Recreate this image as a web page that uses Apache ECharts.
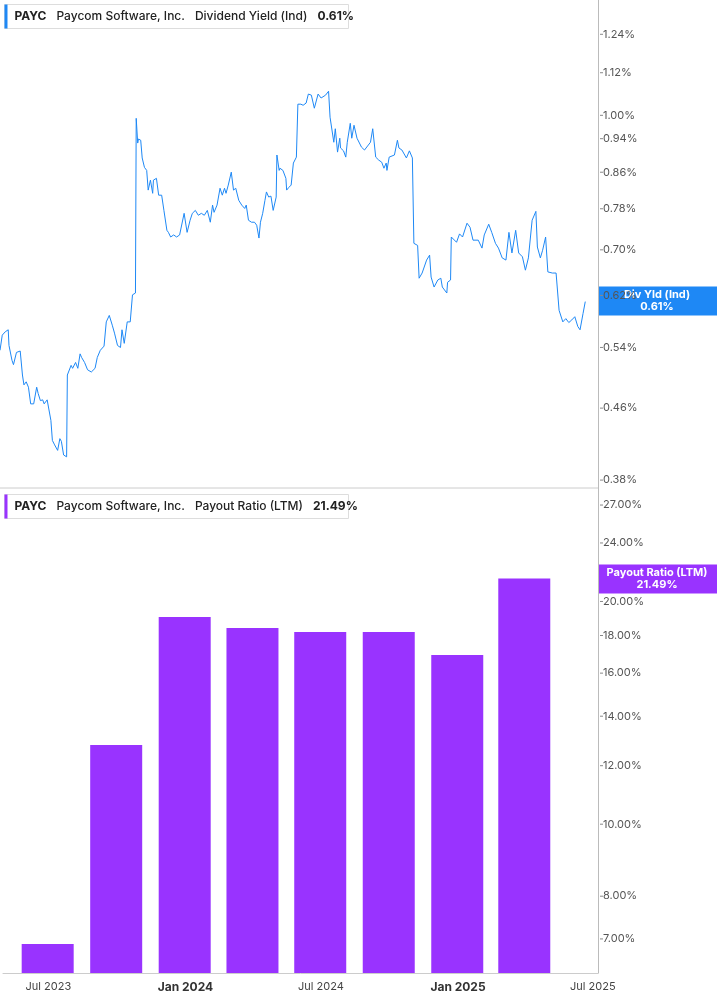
<!DOCTYPE html>
<html>
<head>
<meta charset="utf-8">
<script src="https://cdn.jsdelivr.net/npm/echarts@6/dist/echarts.min.js"></script>
<style>
  html, body { margin: 0; padding: 0; background: #fff; }
  #chart { width: 717px; height: 1005px; }
</style>
</head>
<body>
<div id="chart"></div>
<script>
// 起点日期，其余按天数偏移
const startDate = Date.UTC(2023, 4, 1)
const endDate = Date.UTC(2025, 6, 8)

// 股息率 (Ind)：[天数偏移, 百分比]
const yieldData = [
  [0,.536],[3,.558],[7,.563],[11,.566],[12,.543],[16,.522],[18,.516],[22,.533],[27,.535],[30,.502],
  [32,.489],[35,.493],[38,.486],[41,.465],[42,.464],[45,.465],[49,.486],[51,.478],[54,.469],[57,.470],
  [59,.465],[63,.470],[68,.445],[70,.422],[73,.417],[77,.411],[80,.424],[82,.421],[85,.406],[89,.404],
  [90,.502],[95,.515],[97,.511],[101,.519],[104,.511],[107,.531],[109,.526],[113,.519],[117,.509],[122,.506],
  [127,.511],[130,.526],[134,.536],[139,.542],[142,.578],[146,.588],[150,.573],[153,.561],[157,.543],[161,.540],
  [163,.566],[166,.546],[170,.578],[174,.578],[177,.621],[181,.624],[182,.992],[184,.929],[185,.939],[188,.936],
  [190,.893],[193,.871],[196,.864],[198,.820],[201,.842],[204,.813],[205,.842],[209,.846],[212,.809],[216,.809],
  [219,.777],[223,.737],[225,.733],[228,.724],[232,.728],[236,.724],[240,.728],[246,.771],[250,.733],[254,.757],
  [257,.771],[261,.777],[265,.767],[269,.771],[273,.767],[277,.777],[281,.753],[284,.788],[286,.773],[290,.788],
  [294,.824],[297,.809],[300,.824],[302,.813],[305,.831],[309,.860],[312,.820],[315,.824],[319,.798],[323,.788],
  [327,.781],[329,.788],[332,.757],[336,.753],[340,.753],[343,.747],[346,.722],[348,.753],[351,.771],[354,.798],
  [356,.816],[359,.805],[362,.807],[365,.777],[369,.805],[370,.900],[373,.864],[374,.869],[378,.864],[382,.846],
  [383,.820],[386,.826],[389,.831],[392,.881],[396,.895],[398,1.030],[402,1.030],[405,1.027],[409,1.033],[412,1.058],
  [416,1.055],[420,1.019],[425,1.058],[429,1.047],[435,1.055],[439,1.066],[441,.995],[446,.931],[448,.965],[451,.907],
  [454,.941],[455,.917],[459,.910],[462,.895],[464,.931],[468,.979],[470,.941],[473,.974],[477,.941],[479,.939],
  [483,.919],[487,.912],[495,.931],[498,.965],[502,.895],[506,.888],[510,.883],[513,.869],[516,.881],[517,.864],
  [520,.895],[527,.900],[531,.936],[533,.917],[537,.912],[543,.893],[547,.910],[551,.893],[553,.712],[558,.708],
  [560,.649],[564,.658],[570,.681],[574,.690],[576,.651],[580,.634],[585,.646],[589,.649],[591,.634],[597,.624],
  [598,.642],[602,.646],[603,.724],[610,.714],[614,.730],[618,.724],[624,.751],[628,.743],[632,.718],[639,.718],
  [644,.703],[647,.728],[653,.749],[657,.733],[662,.712],[666,.703],[671,.685],[676,.681],[680,.733],[684,.694],
  [689,.737],[693,.694],[698,.687],[702,.663],[706,.685],[711,.757],[716,.775],[718,.705],[722,.685],[725,.699],
  [729,.724],[732,.660],[738,.658],[743,.658],[747,.596],[752,.578],[756,.583],[760,.577],[764,.581],[768,.586],
  [772,.571],[775,.566],[779,.591],[782,.610]
]

// 派息率 (LTM)：季度
const payoutDates = ['2023-06-30','2023-09-30','2023-12-31','2024-03-31','2024-06-30','2024-09-30','2024-12-31','2025-03-31']
const payoutValues = [6.89, 12.80, 19.06, 18.42, 18.19, 18.19, 16.93, 21.49]

const yieldTicks = [0.38, 0.46, 0.54, 0.62, 0.70, 0.78, 0.86, 0.94, 1.00, 1.12, 1.24]
const payoutTicks = [7, 8, 10, 12, 14, 16, 18, 20, 24, 27]
const xTickLabels = [
  ['2023-07-01', 'Jul 2023', false], ['2024-01-01', 'Jan 2024', true], ['2024-07-01', 'Jul 2024', false],
  ['2025-01-01', 'Jan 2025', true], ['2025-07-01', 'Jul 2025', false]
]

const BLUE = '#1e88f5'
const PURPLE = '#9933ff'
const DAY = 86400000

// 对数坐标：数据取 ln，标签按列表显示
const logLabel = (ticks, digits) => v => {
  const t = ticks.find(t => Math.abs(Math.log(t) - v) < 0.0005)
  return t === undefined ? '' : '{t|}' + t.toFixed(digits) + '%'
}
const snap = v => Math.round(v * 1000) / 1000

const yAxisBase = (ticks, digits, min, max) => ({
  type: 'value',
  position: 'right',
  min: Math.floor(Math.log(min) * 1000) / 1000,
  max: Math.ceil(Math.log(max) * 1000) / 1000,
  interval: 0.001,
  axisLine: { show: true, lineStyle: { color: '#bbb' } },
  axisTick: { show: false },
  splitLine: { show: false },
  axisLabel: {
    formatter: logLabel(ticks, digits),
    color: '#555', fontSize: 11, fontFamily: 'Inter', margin: 2,
    rich: {
      t: { width: 3, height: 1, backgroundColor: '#888', padding: 0 },
    }
  }
})

const xAxisBase = (showLabels) => ({
  type: 'value',
  min: startDate,
  max: endDate,
  interval: DAY,
  axisLine: { show: showLabels, lineStyle: { color: '#ccc' } },
  axisTick: { show: false },
  splitLine: { show: false },
  axisLabel: {
    show: showLabels,
    color: '#444', fontSize: 11, fontFamily: 'Inter', margin: 8,
    formatter: v => {
      const d = new Date(v).toISOString().slice(0, 10)
      const hit = xTickLabels.find(x => x[0] === d)
      if (!hit) return ''
      return hit[2] ? '{b|' + hit[1] + '}' : hit[1]
    },
    rich: { b: { fontWeight: 'bold', fontSize: 12, color: '#333', fontFamily: 'Inter' } }
  }
})

const chart = echarts.init(document.getElementById('chart'))

const legendBox = (top, color, name, value) => ({
  type: 'group', left: 4, top: top,
  children: [
    { type: 'rect', shape: { x: 0, y: 0, width: 344, height: 24 }, style: { fill: '#fff', stroke: '#ddd' } },
    { type: 'rect', shape: { x: 0, y: 0, width: 3, height: 24 }, style: { fill: color } },
    { type: 'text', x: 10, y: 12, style: {
      text: '{b|PAYC}   {n|Paycom Software, Inc.}   {n|' + name + '}   {b|' + value + '}',
      verticalAlign: 'middle',
      rich: {
        b: { fontWeight: 'bold', fontSize: 12, fontFamily: 'Inter', fill: '#222' },
        n: { fontSize: 12, fontFamily: 'Inter', fill: '#222', fontWeight: 500 }
      }
    } }
  ]
})

const badge = (top, color, line1, line2) => ({
  type: 'group', left: 598, top: top,
  children: [
    { type: 'rect', shape: { x: 0, y: 0, width: 119, height: 29 }, style: { fill: color } },
    { type: 'text', x: 59, y: 14.5, style: {
      text: line1 + '\n' + line2, fill: '#fff', fontSize: 11, fontWeight: 'bold',
      fontFamily: 'Inter', align: 'center', verticalAlign: 'middle', lineHeight: 12
    } }
  ]
})

const option = {
  animation: false,
  grid: [
    { left: 0, right: 119, top: 0, height: 488 },
    { left: 0, right: 119, top: 488, bottom: 32 }
  ],
  xAxis: [
    Object.assign(xAxisBase(false), { gridIndex: 0 }),
    Object.assign(xAxisBase(true), { gridIndex: 1 })
  ],
  yAxis: [
    Object.assign(yAxisBase(yieldTicks, 2, 0.372, 1.357), { gridIndex: 0 }),
    Object.assign(yAxisBase(payoutTicks, 2, 6.30, 28.47), { gridIndex: 1 })
  ],
  series: [
    {
      type: 'line', xAxisIndex: 0, yAxisIndex: 0, symbol: 'none',
      lineStyle: { color: BLUE, width: 1 },
      data: yieldData.map(d => [startDate + d[0] * DAY, Math.log(d[1])])
    },
    {
      type: 'bar', xAxisIndex: 1, yAxisIndex: 1, barWidth: 52,
      itemStyle: { color: PURPLE },
      data: payoutDates.map((d, i) => [Date.parse(d), Math.log(payoutValues[i])])
    }
  ],
  graphic: [
    { type: 'line', shape: { x1: 0, y1: 488, x2: 598, y2: 488 }, style: { stroke: '#ccc', lineWidth: 1 } },
    legendBox(4, BLUE, 'Dividend Yield (Ind)', '0.61%'),
    legendBox(494, PURPLE, 'Payout Ratio (LTM)', '21.49%')
  ]
}
chart.setOption(option)

// 右侧数值标签，按最新值定位
const lastYield = yieldData[yieldData.length - 1][1]
const lastPayout = payoutValues[payoutValues.length - 1]
const yTop = chart.convertToPixel({ yAxisIndex: 0 }, Math.log(lastYield))
const yBot = chart.convertToPixel({ yAxisIndex: 1 }, Math.log(lastPayout))
chart.setOption({
  graphic: option.graphic.concat([
    badge(yTop - 15, BLUE, 'Div Yld (Ind)', lastYield.toFixed(2) + '%'),
    badge(yBot - 14, PURPLE, 'Payout Ratio (LTM)', lastPayout.toFixed(2) + '%')
  ])
})
</script>
</body>
</html>
